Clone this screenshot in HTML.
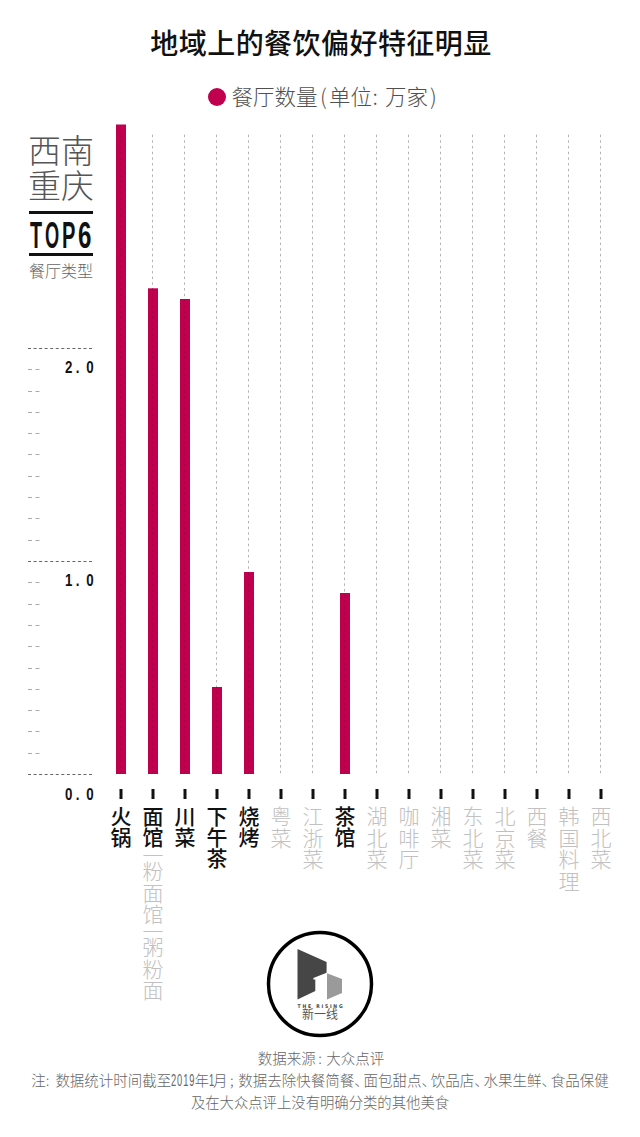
<!DOCTYPE html>
<html lang="zh-CN"><head><meta charset="utf-8">
<style>
html,body{margin:0;padding:0;background:#fff;}
body{width:640px;height:1137px;position:relative;overflow:hidden;font-family:"Liberation Sans","Noto Sans CJK SC",sans-serif;}
.abs{position:absolute;}
#title{position:absolute;left:1px;width:640px;top:27px;text-align:center;font-size:28px;font-weight:500;color:#111;line-height:36px;letter-spacing:0.45px;}
#legend{position:absolute;left:207.5px;top:84px;height:24px;}
#legend .dot{position:absolute;left:0;top:4px;width:18px;height:18px;border-radius:50%;background:#c0004f;}
#legend .t{position:absolute;left:25px;top:0;white-space:nowrap;font-size:21.5px;line-height:24px;color:#505050;font-weight:300;font-family:"Noto Sans CJK SC",sans-serif;}
#side1{position:absolute;left:28px;top:134px;font-size:33px;line-height:35px;color:#555;font-weight:300;}
.bar3{position:absolute;left:29px;width:64px;height:3px;background:#111;}
#top6{position:absolute;left:29px;top:216px;width:64px;height:40px;font-size:36.5px;line-height:40px;font-weight:700;color:#111;}
#top6 span{position:absolute;top:0;transform-origin:0 0;}
#side2{position:absolute;left:29px;top:261px;font-size:16px;line-height:22px;color:#666;font-weight:300;white-space:nowrap;}
.yl{position:absolute;left:64.5px;font-size:16.6px;line-height:16px;color:#111;font-family:"Liberation Sans",sans-serif;font-weight:700;letter-spacing:6.6px;transform-origin:0 0;transform:scaleX(0.8);white-space:nowrap;}
svg{position:absolute;left:0;top:0;}
.lab{position:absolute;top:806px;width:32px;text-align:center;font-size:21px;color:#111;}
.lab .c{height:21px;line-height:21px;font-weight:500;}
.lab .g{color:#c1c1c1;font-weight:300;height:21.7px;line-height:21.7px;}
.lab .sep{height:11px;line-height:11px;}
.lab .sep1{margin-top:2px;}
#logo{position:absolute;left:0;top:0;}
.foot{position:absolute;left:0;width:640px;text-align:center;font-size:14.3px;line-height:18px;color:#666;white-space:nowrap;font-weight:300;font-family:"Noto Sans CJK SC",sans-serif;}
.sp{display:inline-block;white-space:nowrap;}
.dgi{display:inline-block;font-family:"Liberation Sans",sans-serif;font-size:16px;transform-origin:0 50%;letter-spacing:1.6px;}
.dn{display:inline-block;width:9.3px;overflow:visible;}
.f2{font-size:14.5px;text-align:left;left:31.2px;width:auto;}
</style></head><body>
<div id="title">地域上的餐饮偏好特征明显</div>
<div id="legend"><div class="dot"></div><span class="t" style="left:24px">餐厅数量</span><span class="t" style="left:112.5px">(</span><span class="t" style="left:121.5px">单位</span><span class="t" style="left:165px">:</span><span class="t" style="left:177.5px">万家</span><span class="t" style="left:222.5px">)</span></div>
<div id="side1">西南<br>重庆</div>
<div class="bar3" style="top:211px"></div>
<div id="top6"><span style="left:0.8px;transform:scaleX(0.54)">T</span><span style="left:15.6px;transform:scaleX(0.5)">O</span><span style="left:33px;transform:scaleX(0.55)">P</span><span style="left:49.2px;transform:scaleX(0.66)">6</span></div>
<div class="bar3" style="top:253px"></div>
<div id="side2">餐厅类型</div>
<svg width="640" height="1137" viewBox="0 0 640 1137">
<line x1="120.5" y1="134.7" x2="120.5" y2="774" stroke="#b2b2b2" stroke-width="1" stroke-dasharray="2.4 3.28"/>
<line x1="152.5" y1="134.7" x2="152.5" y2="774" stroke="#b2b2b2" stroke-width="1" stroke-dasharray="2.4 3.28"/>
<line x1="184.5" y1="134.7" x2="184.5" y2="774" stroke="#b2b2b2" stroke-width="1" stroke-dasharray="2.4 3.28"/>
<line x1="216.5" y1="134.7" x2="216.5" y2="774" stroke="#b2b2b2" stroke-width="1" stroke-dasharray="2.4 3.28"/>
<line x1="248.5" y1="134.7" x2="248.5" y2="774" stroke="#b2b2b2" stroke-width="1" stroke-dasharray="2.4 3.28"/>
<line x1="280.5" y1="134.7" x2="280.5" y2="774" stroke="#b2b2b2" stroke-width="1" stroke-dasharray="2.4 3.28"/>
<line x1="312.5" y1="134.7" x2="312.5" y2="774" stroke="#b2b2b2" stroke-width="1" stroke-dasharray="2.4 3.28"/>
<line x1="344.5" y1="134.7" x2="344.5" y2="774" stroke="#b2b2b2" stroke-width="1" stroke-dasharray="2.4 3.28"/>
<line x1="376.5" y1="134.7" x2="376.5" y2="774" stroke="#b2b2b2" stroke-width="1" stroke-dasharray="2.4 3.28"/>
<line x1="408.5" y1="134.7" x2="408.5" y2="774" stroke="#b2b2b2" stroke-width="1" stroke-dasharray="2.4 3.28"/>
<line x1="440.5" y1="134.7" x2="440.5" y2="774" stroke="#b2b2b2" stroke-width="1" stroke-dasharray="2.4 3.28"/>
<line x1="472.5" y1="134.7" x2="472.5" y2="774" stroke="#b2b2b2" stroke-width="1" stroke-dasharray="2.4 3.28"/>
<line x1="504.5" y1="134.7" x2="504.5" y2="774" stroke="#b2b2b2" stroke-width="1" stroke-dasharray="2.4 3.28"/>
<line x1="536.5" y1="134.7" x2="536.5" y2="774" stroke="#b2b2b2" stroke-width="1" stroke-dasharray="2.4 3.28"/>
<line x1="568.5" y1="134.7" x2="568.5" y2="774" stroke="#b2b2b2" stroke-width="1" stroke-dasharray="2.4 3.28"/>
<line x1="600.5" y1="134.7" x2="600.5" y2="774" stroke="#b2b2b2" stroke-width="1" stroke-dasharray="2.4 3.28"/>
<rect x="116" y="124.5" width="10" height="649.5" fill="#c0004f"/>
<line x1="120.5" y1="134.7" x2="120.5" y2="774" stroke="rgba(40,0,10,0.18)" stroke-width="1" stroke-dasharray="2.4 3.28" clip-path="url(#cb0)"/>
<clipPath id="cb0"><rect x="116" y="124.5" width="10" height="649.5"/></clipPath>
<rect x="148" y="288.3" width="10" height="485.7" fill="#c0004f"/>
<line x1="152.5" y1="134.7" x2="152.5" y2="774" stroke="rgba(40,0,10,0.18)" stroke-width="1" stroke-dasharray="2.4 3.28" clip-path="url(#cb1)"/>
<clipPath id="cb1"><rect x="148" y="288.3" width="10" height="485.7"/></clipPath>
<rect x="180" y="299" width="10" height="475" fill="#c0004f"/>
<line x1="184.5" y1="134.7" x2="184.5" y2="774" stroke="rgba(40,0,10,0.18)" stroke-width="1" stroke-dasharray="2.4 3.28" clip-path="url(#cb2)"/>
<clipPath id="cb2"><rect x="180" y="299" width="10" height="475"/></clipPath>
<rect x="212" y="687" width="10" height="87" fill="#c0004f"/>
<line x1="216.5" y1="134.7" x2="216.5" y2="774" stroke="rgba(40,0,10,0.18)" stroke-width="1" stroke-dasharray="2.4 3.28" clip-path="url(#cb3)"/>
<clipPath id="cb3"><rect x="212" y="687" width="10" height="87"/></clipPath>
<rect x="244" y="572" width="10" height="202" fill="#c0004f"/>
<line x1="248.5" y1="134.7" x2="248.5" y2="774" stroke="rgba(40,0,10,0.18)" stroke-width="1" stroke-dasharray="2.4 3.28" clip-path="url(#cb4)"/>
<clipPath id="cb4"><rect x="244" y="572" width="10" height="202"/></clipPath>
<rect x="340" y="593" width="10" height="181" fill="#c0004f"/>
<line x1="344.5" y1="134.7" x2="344.5" y2="774" stroke="rgba(40,0,10,0.18)" stroke-width="1" stroke-dasharray="2.4 3.28" clip-path="url(#cb7)"/>
<clipPath id="cb7"><rect x="340" y="593" width="10" height="181"/></clipPath>
<rect x="119.5" y="789" width="3" height="10" fill="#111"/>
<rect x="151.5" y="789" width="3" height="10" fill="#111"/>
<rect x="183.5" y="789" width="3" height="10" fill="#111"/>
<rect x="215.5" y="789" width="3" height="10" fill="#111"/>
<rect x="247.5" y="789" width="3" height="10" fill="#111"/>
<rect x="279.5" y="789" width="3" height="10" fill="#111"/>
<rect x="311.5" y="789" width="3" height="10" fill="#111"/>
<rect x="343.5" y="789" width="3" height="10" fill="#111"/>
<rect x="375.5" y="789" width="3" height="10" fill="#111"/>
<rect x="407.5" y="789" width="3" height="10" fill="#111"/>
<rect x="439.5" y="789" width="3" height="10" fill="#111"/>
<rect x="471.5" y="789" width="3" height="10" fill="#111"/>
<rect x="503.5" y="789" width="3" height="10" fill="#111"/>
<rect x="535.5" y="789" width="3" height="10" fill="#111"/>
<rect x="567.5" y="789" width="3" height="10" fill="#111"/>
<rect x="599.5" y="789" width="3" height="10" fill="#111"/>
<line x1="28" y1="348.5" x2="93" y2="348.5" stroke="#666" stroke-width="1" stroke-dasharray="3 2.55"/>
<line x1="28" y1="561.5" x2="93" y2="561.5" stroke="#666" stroke-width="1" stroke-dasharray="3 2.55"/>
<line x1="28" y1="774.5" x2="93" y2="774.5" stroke="#666" stroke-width="1" stroke-dasharray="3 2.55"/>
<line x1="28" y1="753.5" x2="40" y2="753.5" stroke="#aaa" stroke-width="1" stroke-dasharray="4 3.5"/>
<line x1="28" y1="731.5" x2="40" y2="731.5" stroke="#aaa" stroke-width="1" stroke-dasharray="4 3.5"/>
<line x1="28" y1="710.5" x2="40" y2="710.5" stroke="#aaa" stroke-width="1" stroke-dasharray="4 3.5"/>
<line x1="28" y1="689.5" x2="40" y2="689.5" stroke="#aaa" stroke-width="1" stroke-dasharray="4 3.5"/>
<line x1="28" y1="668.5" x2="40" y2="668.5" stroke="#aaa" stroke-width="1" stroke-dasharray="4 3.5"/>
<line x1="28" y1="646.5" x2="40" y2="646.5" stroke="#aaa" stroke-width="1" stroke-dasharray="4 3.5"/>
<line x1="28" y1="625.5" x2="40" y2="625.5" stroke="#aaa" stroke-width="1" stroke-dasharray="4 3.5"/>
<line x1="28" y1="604.5" x2="40" y2="604.5" stroke="#aaa" stroke-width="1" stroke-dasharray="4 3.5"/>
<line x1="28" y1="582.5" x2="40" y2="582.5" stroke="#aaa" stroke-width="1" stroke-dasharray="4 3.5"/>
<line x1="28" y1="540.5" x2="40" y2="540.5" stroke="#aaa" stroke-width="1" stroke-dasharray="4 3.5"/>
<line x1="28" y1="518.5" x2="40" y2="518.5" stroke="#aaa" stroke-width="1" stroke-dasharray="4 3.5"/>
<line x1="28" y1="497.5" x2="40" y2="497.5" stroke="#aaa" stroke-width="1" stroke-dasharray="4 3.5"/>
<line x1="28" y1="476.5" x2="40" y2="476.5" stroke="#aaa" stroke-width="1" stroke-dasharray="4 3.5"/>
<line x1="28" y1="454.5" x2="40" y2="454.5" stroke="#aaa" stroke-width="1" stroke-dasharray="4 3.5"/>
<line x1="28" y1="433.5" x2="40" y2="433.5" stroke="#aaa" stroke-width="1" stroke-dasharray="4 3.5"/>
<line x1="28" y1="412.5" x2="40" y2="412.5" stroke="#aaa" stroke-width="1" stroke-dasharray="4 3.5"/>
<line x1="28" y1="391.5" x2="40" y2="391.5" stroke="#aaa" stroke-width="1" stroke-dasharray="4 3.5"/>
<line x1="28" y1="369.5" x2="40" y2="369.5" stroke="#aaa" stroke-width="1" stroke-dasharray="4 3.5"/>
<circle cx="320" cy="984" r="51.5" fill="none" stroke="#000" stroke-width="3.5"/>
<polygon points="297.5,949 326.6,962 326.6,972.8 313.4,978 313.4,979.4 315.3,979.4 315.3,991 297.5,999.5" fill="#464646"/>
<polygon points="327,973.3 342,979 342,993 327,999.5" fill="#9a9a9a"/>
<text x="297.6" y="1007.6" font-family="DejaVu Sans Condensed, sans-serif" font-weight="700" font-size="5" textLength="45" lengthAdjust="spacing" fill="#444">THE RISING</text>
<text x="320" y="1019" text-anchor="middle" font-family="Liberation Sans, Noto Sans CJK SC, sans-serif" font-size="12" fill="#555">新一线</text>
</svg>
<div class="yl" style="top:360px">2<span style="margin-left:-2.5px;letter-spacing:8.6px">.</span>0</div>
<div class="yl" style="top:573px">1<span style="margin-left:-2.5px;letter-spacing:8.6px">.</span>0</div>
<div class="yl" style="top:786.5px">0<span style="margin-left:-2.5px;letter-spacing:8.6px">.</span>0</div>
<div class="lab" style="left:105px"><div class="c">火</div><div class="c">锅</div></div>
<div class="lab" style="left:137px"><div class="c">面</div><div class="c">馆</div><div class="c g sep sep1">一</div><div class="c g">粉</div><div class="c g">面</div><div class="c g">馆</div><div class="c g sep">一</div><div class="c g">粥</div><div class="c g">粉</div><div class="c g">面</div></div>
<div class="lab" style="left:169px"><div class="c">川</div><div class="c">菜</div></div>
<div class="lab" style="left:201px"><div class="c">下</div><div class="c">午</div><div class="c">茶</div></div>
<div class="lab" style="left:233px"><div class="c">烧</div><div class="c">烤</div></div>
<div class="lab" style="left:265px"><div class="c g">粤</div><div class="c g">菜</div></div>
<div class="lab" style="left:297px"><div class="c g">江</div><div class="c g">浙</div><div class="c g">菜</div></div>
<div class="lab" style="left:329px"><div class="c">茶</div><div class="c">馆</div></div>
<div class="lab" style="left:361px"><div class="c g">湖</div><div class="c g">北</div><div class="c g">菜</div></div>
<div class="lab" style="left:393px"><div class="c g">咖</div><div class="c g">啡</div><div class="c g">厅</div></div>
<div class="lab" style="left:425px"><div class="c g">湘</div><div class="c g">菜</div></div>
<div class="lab" style="left:457px"><div class="c g">东</div><div class="c g">北</div><div class="c g">菜</div></div>
<div class="lab" style="left:489px"><div class="c g">北</div><div class="c g">京</div><div class="c g">菜</div></div>
<div class="lab" style="left:521px"><div class="c g">西</div><div class="c g">餐</div></div>
<div class="lab" style="left:553px"><div class="c g">韩</div><div class="c g">国</div><div class="c g">料</div><div class="c g">理</div></div>
<div class="lab" style="left:585px"><div class="c g">西</div><div class="c g">北</div><div class="c g">菜</div></div>
<div class="foot" style="top:1049px;font-size:14.5px;padding-left:2px;box-sizing:border-box">数据来源<span class="sp" style="width:10.5px;text-indent:-2px">:</span>大众点评</div>
<div class="foot f2" style="top:1071px">注<span class="sp" style="width:9.7px">:</span>数据统计时间截至<span class="sp" style="width:23px"><span class="dgi" style="transform:scaleX(0.58)">2019</span></span>年<span class="sp" style="width:4px"><span class="dgi" style="transform:scaleX(0.58)">1</span></span>月<span class="sp" style="width:10.8px;text-indent:2.5px">;</span>数据去除快餐简餐<span class="dn">、</span>面包甜点<span class="dn">、</span>饮品店<span class="dn">、</span>水果生鲜<span class="dn">、</span>食品保健</div>
<div class="foot" style="top:1093px;font-size:14.35px">及在大众点评上没有明确分类的其他美食</div>
</body></html>
